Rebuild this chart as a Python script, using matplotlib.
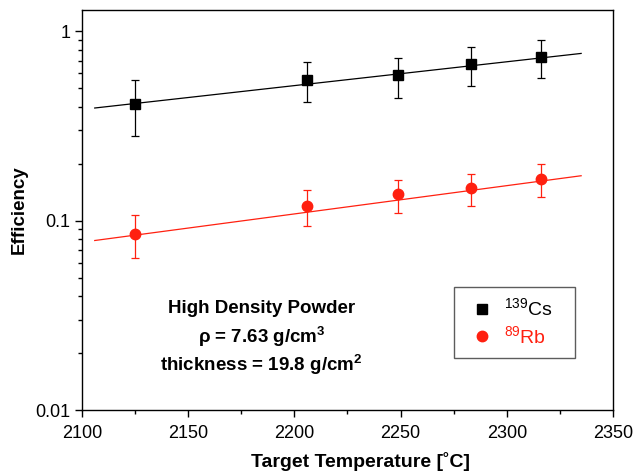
import matplotlib
matplotlib.use("Agg")
import matplotlib.pyplot as plt
from matplotlib.lines import Line2D
import numpy as np

plt.rcParams['font.family'] = ['Liberation Sans', 'DejaVu Sans']
plt.rcParams['mathtext.default'] = 'regular'

temp = [2125, 2206, 2249, 2283, 2316]

cs_eff = [0.414, 0.552, 0.585, 0.670, 0.733]
cs_hi = [0.550, 0.687, 0.724, 0.827, 0.897]
cs_lo = [0.280, 0.423, 0.442, 0.511, 0.566]

rb_eff = [0.0851, 0.1195, 0.138, 0.1486, 0.166]
rb_hi = [0.1067, 0.1444, 0.164, 0.176, 0.198]
rb_lo = [0.0635, 0.0933, 0.110, 0.1195, 0.134]

fit_x = [2106, 2335]
cs_fit = [0.393, 0.763]
rb_fit = [0.0785, 0.1725]

red = '#ff2010'

fig = plt.figure(figsize=(6.39, 4.75), dpi=100)
ax = fig.add_axes([0.1283, 0.1368, 0.831, 0.843])

ax.plot(fit_x, cs_fit, color='black', lw=0.9)
ax.plot(fit_x, rb_fit, color=red, lw=0.9)

cs_err = [np.array(cs_eff) - np.array(cs_lo), np.array(cs_hi) - np.array(cs_eff)]
rb_err = [np.array(rb_eff) - np.array(rb_lo), np.array(rb_hi) - np.array(rb_eff)]
ax.errorbar(temp, cs_eff, yerr=cs_err, fmt='s', color='black', ms=6.5,
            capsize=3, elinewidth=0.9, capthick=0.9)
ax.errorbar(temp, rb_eff, yerr=rb_err, fmt='o', color=red, ms=7.5,
            capsize=3, elinewidth=0.9, capthick=0.9)

ax.set_yscale('log')
ax.set_xlim(2100, 2350)
ax.set_ylim(0.01, 1.30)
ax.set_xticks([2100, 2150, 2200, 2250, 2300, 2350])
ax.set_xticks(np.arange(2125, 2350, 50), minor=True)
ax.set_yticks([0.01, 0.1, 1])
ax.set_yticklabels(['0.01', '0.1', '1'])
ax.tick_params(axis='both', which='major', direction='out', length=5, width=1,
               labelsize=13, top=False, right=False)
ax.tick_params(axis='x', which='major', pad=6)
ax.tick_params(axis='both', which='minor', direction='out', length=3, width=1,
               top=False, right=False)
for s in ax.spines.values():
    s.set_linewidth(1.0)

ax.set_xlabel('Target Temperature [˚C]', fontsize=14, fontweight='bold')
ax.xaxis.set_label_coords(0.5245, -0.105)
ax.set_ylabel('Efficiency', fontsize=13.5, fontweight='bold', labelpad=5)

ax.text(0.338, 0.2525, 'High Density Powder', transform=ax.transAxes, ha='center',
        va='center', fontsize=13.5, fontweight='bold')
ax.text(0.338, 0.1825, 'ρ = 7.63 g/cm$^{3}$', transform=ax.transAxes, ha='center',
        va='center', fontsize=13.5, fontweight='bold')
ax.text(0.338, 0.1125, 'thickness = 19.8 g/cm$^{2}$', transform=ax.transAxes, ha='center',
        va='center', fontsize=13.5, fontweight='bold')

handles = [Line2D([], [], marker='s', ls='none', color='black', ms=6.5),
           Line2D([], [], marker='o', ls='none', color=red, ms=7.5)]
labels = ['$^{139}$Cs   ', '$^{89}$Rb   ']
leg = ax.legend(handles, labels, loc='upper left', bbox_to_anchor=(0.7006, 0.3075),
                fontsize=14, frameon=True, fancybox=False, edgecolor='#333333',
                borderpad=0.55, handletextpad=0.24, labelspacing=0.3, handlelength=1.78,
                borderaxespad=0)
leg.get_frame().set_linewidth(1.0)
for t, c in zip(leg.get_texts(), ['black', red]):
    t.set_color(c)

fig.savefig('out.png', dpi=100)
